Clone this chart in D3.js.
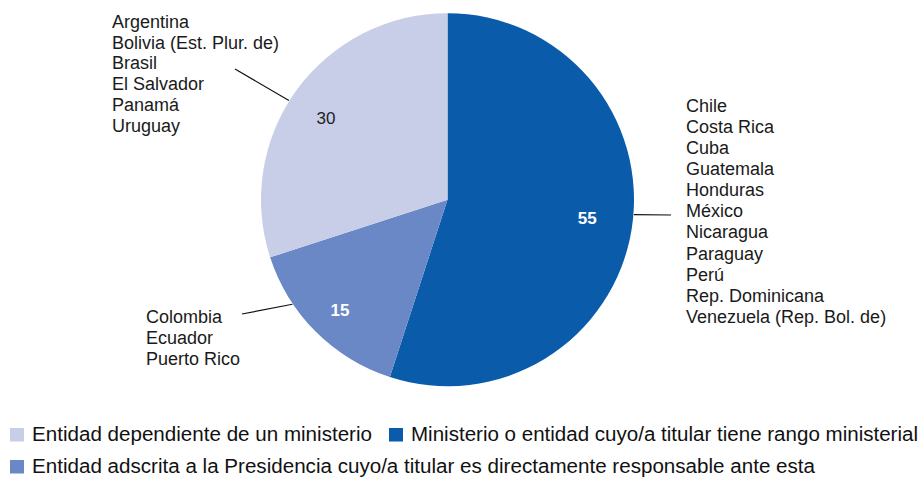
<!DOCTYPE html>
<html>
<head>
<meta charset="utf-8">
<script src="https://cdn.jsdelivr.net/npm/d3@7"></script>
<style>
  html, body { margin: 0; padding: 0; background: #ffffff; }
  svg { display: block; font-family: "Liberation Sans", Arial, sans-serif; }
</style>
</head>
<body>
<svg id="chart" width="921" height="477"></svg>
<script>
// Categories of the lead institution, in drawing order (clockwise from 12 o'clock)
const categories = [
  "Ministerio o entidad cuyo/a titular tiene rango ministerial",
  "Entidad adscrita a la Presidencia cuyo/a titular es directamente responsable ante esta",
  "Entidad dependiente de un ministerio"
];
const values = [55, 15, 30];
const colors = ["#0a5cab", "#6b88c6", "#c8cee8"];

// Countries grouped under each category
const countries = [
  ["Chile", "Costa Rica", "Cuba", "Guatemala", "Honduras", "México", "Nicaragua",
   "Paraguay", "Perú", "Rep. Dominicana", "Venezuela (Rep. Bol. de)"],
  ["Colombia", "Ecuador", "Puerto Rico"],
  ["Argentina", "Bolivia (Est. Plur. de)", "Brasil", "El Salvador", "Panamá", "Uruguay"]
];

// Legend order (indices into categories), two rows
const legendRows = [[2, 0], [1]];

const svg = d3.select("#chart");
const cx = 447.5, cy = 199.7, R = 186.5;

const pie = d3.pie().sort(null).value(d => d)(values);
const arc = d3.arc().innerRadius(0).outerRadius(R);

const g = svg.append("g").attr("transform", `translate(${cx},${cy})`);

g.selectAll("path.slice")
  .data(pie)
  .join("path")
  .attr("class", "slice")
  .attr("d", arc)
  .attr("fill", (d, i) => colors[i]);

// Polar helper: angle in degrees clockwise from 12 o'clock
const polar = (r, deg) => {
  const a = deg * Math.PI / 180;
  return [r * Math.sin(a), -r * Math.cos(a)];
};

// Value labels inside the slices
const valueLabel = [
  { r: 141, a: 97.5, fill: "#ffffff", weight: "bold" },
  { r: 154, a: 224.3, fill: "#ffffff", weight: "bold" },
  { r: 146.4, a: 303.9, fill: "#222222", weight: "normal" }
];
g.selectAll("text.value")
  .data(pie)
  .join("text")
  .attr("class", "value")
  .attr("x", (d, i) => polar(valueLabel[i].r, valueLabel[i].a)[0])
  .attr("y", (d, i) => polar(valueLabel[i].r, valueLabel[i].a)[1])
  .attr("dy", "0.36em")
  .attr("text-anchor", "middle")
  .attr("font-size", 17)
  .attr("font-weight", (d, i) => valueLabel[i].weight)
  .attr("fill", (d, i) => valueLabel[i].fill)
  .text(d => d.data);

// Leader lines from slice edge to the country lists
const leaders = [
  { a: 94.6, end: [223.5, 15.3] },
  { a: 236, end: [-205.5, 114.3] },
  { a: 302, end: [-212.5, -130.7] }
];
g.selectAll("line.leader")
  .data(leaders)
  .join("line")
  .attr("class", "leader")
  .attr("x1", d => polar(R + 0.5, d.a)[0])
  .attr("y1", d => polar(R + 0.5, d.a)[1])
  .attr("x2", d => d.end[0])
  .attr("y2", d => d.end[1])
  .attr("stroke", "#111111")
  .attr("stroke-width", 1.2);

// Country lists
const listPos = [
  { x: 686, y: 111.5, step: 21.15 },
  { x: 146, y: 323.3, step: 20.9 },
  { x: 112, y: 27.7, step: 20.8 }
];
countries.forEach((list, i) => {
  svg.append("text")
    .attr("font-size", 18)
    .attr("fill", "#1a1a1a")
    .selectAll("tspan")
    .data(list)
    .join("tspan")
    .attr("x", listPos[i].x)
    .attr("y", (d, j) => listPos[i].y + j * listPos[i].step)
    .text(d => d);
});

// Legend
const legendItems = [
  { idx: 2, x: 10, y: 441, w: 340 },
  { idx: 0, x: 389, y: 441, w: 507 },
  { idx: 1, x: 10, y: 473, w: 783 }
];
const lg = svg.append("g").attr("class", "legend");
legendItems.forEach(item => {
  lg.append("rect")
    .attr("x", item.x)
    .attr("y", item.y - 13)
    .attr("width", 14)
    .attr("height", 13.5)
    .attr("fill", colors[item.idx]);
  lg.append("text")
    .attr("x", item.x + 22)
    .attr("y", item.y)
    .attr("font-size", 20)
    .attr("fill", "#111111")
    .attr("textLength", item.w)
    .attr("lengthAdjust", "spacingAndGlyphs")
    .text(categories[item.idx]);
});
</script>
</body>
</html>
